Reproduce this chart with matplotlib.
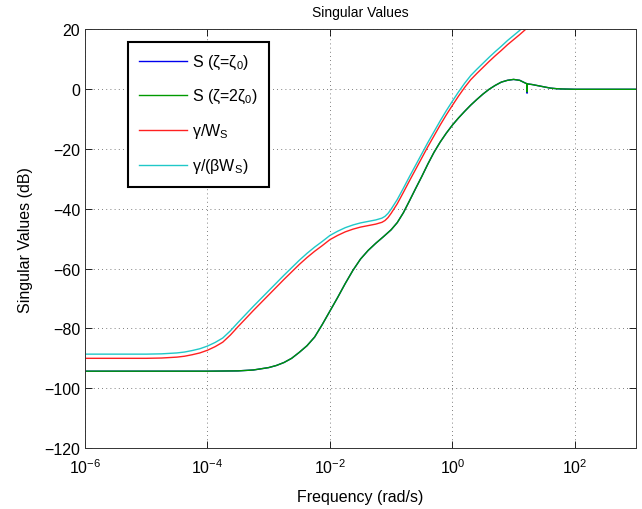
import numpy as np
import matplotlib.pyplot as plt

plt.rcParams['font.family'] = ['Liberation Sans', 'DejaVu Sans']
plt.rcParams['mathtext.fontset'] = 'custom'
plt.rcParams['mathtext.rm'] = 'Liberation Sans'
plt.rcParams['mathtext.it'] = 'Liberation Sans:italic'

# S curves: log10 of frequency (rad/s) and gain (dB)
s_logw = [-6.0, -5.0, -4.0, -3.5, -3.25, -3.0, -2.875, -2.75, -2.625, -2.5,
          -2.375, -2.25, -2.125, -2.0, -1.875, -1.75, -1.625, -1.5, -1.375,
          -1.25, -1.125, -1.0, -0.9, -0.8, -0.7, -0.6, -0.5, -0.4, -0.3, -0.2,
          -0.1, 0.0, 0.1, 0.2, 0.3, 0.4, 0.5, 0.6, 0.7, 0.8, 0.9, 1.0, 1.1,
          1.2, 1.215, 1.22, 1.225, 1.3, 1.4, 1.5, 1.6, 1.7, 1.8, 2.0, 3.0]
s1_db = [-94.3, -94.3, -94.3, -94.2, -93.9, -93.1, -92.4, -91.4, -90.0, -88.0,
         -85.8, -82.9, -78.7, -74.2, -69.7, -65.0, -60.6, -56.8, -53.9,
         -51.5, -49.3, -47.0, -44.6, -41.3, -37.3, -33.2, -29.2, -25.0, -21.1, -17.7,
         -14.7, -12.0, -9.6, -7.4, -5.3, -3.4, -1.6, 0.0, 1.3, 2.4, 3.0, 3.3, 3.0,
         2.0, 1.9, -1.3, 1.8, 1.6, 1.2, 0.8, 0.4, 0.2, 0.1, 0.0, 0.0]
s2_db = [-94.3, -94.3, -94.3, -94.2, -93.9, -93.1, -92.4, -91.4, -90.0, -88.0,
         -85.8, -82.9, -78.7, -74.2, -69.7, -65.0, -60.6, -56.8, -53.9,
         -51.5, -49.3, -47.0, -44.6, -41.3, -37.3, -33.2, -29.2, -25.0, -21.1, -17.7,
         -14.7, -12.0, -9.6, -7.4, -5.3, -3.4, -1.6, 0.0, 1.3, 2.4, 3.0, 3.3, 3.0,
         2.0, 1.9, -0.9, 1.8, 1.6, 1.2, 0.8, 0.4, 0.2, 0.1, 0.0, 0.0]

# weighting curves
w_logw = [-6.0, -5.0, -4.75, -4.5, -4.375, -4.25, -4.125, -4.0, -3.875, -3.75,
          -3.625, -3.5, -3.375, -3.25, -3.0, -2.75, -2.5, -2.375, -2.25, -2.125,
          -2.0, -1.875, -1.75, -1.625, -1.5, -1.375, -1.25, -1.15, -1.1, -1.05,
          -1.0, -0.9, -0.8, -0.7, -0.6, -0.5, -0.4, -0.3, -0.2, -0.1, 0.0, 0.1,
          0.2, 0.3, 0.4, 0.5, 0.6, 0.7, 0.8, 0.9, 1.0, 1.1, 1.2, 1.4]
gw_db = [-90.0, -90.0, -89.9, -89.6, -89.3, -88.8, -88.2, -87.3, -86.1, -84.6,
         -82.2, -79.4, -76.7, -74.0, -68.8, -63.6, -58.6, -56.3, -54.2, -52.3,
         -50.3, -48.9, -47.7, -46.8, -46.1, -45.6, -45.1, -44.5, -43.9, -42.9,
         -41.5, -38.3, -34.5, -30.6, -26.8, -23.0, -19.2, -15.6, -12.0, -8.6, -5.4, -2.3,
         0.6, 3.2, 5.3, 7.3, 9.3, 11.2, 13.0, 14.9, 16.6, 18.3, 20.1, 23.5]
gbw_db = [-88.6, -88.6, -88.5, -88.2, -87.9, -87.4, -86.8, -85.9, -84.7, -83.2,
          -80.8, -78.0, -75.3, -72.6, -67.4, -62.2, -57.2, -54.9, -52.8, -50.9,
          -48.9, -47.5, -46.3, -45.4, -44.7, -44.2, -43.7, -43.1, -42.5, -41.5,
          -40.1, -36.9, -33.1, -29.2, -25.4, -21.6, -17.8, -14.2, -10.6, -7.2, -4.0, -0.9,
          2.0, 4.6, 6.7, 8.7, 10.7, 12.6, 14.4, 16.3, 18.0, 19.7, 21.5, 24.9]

s_freq = 10.0 ** np.array(s_logw)
w_freq = 10.0 ** np.array(w_logw)

fig = plt.figure(figsize=(6.42, 5.10), dpi=100)
ax = fig.add_axes([0.1324, 0.1196, 0.8583, 0.8206])

ax.semilogx(s_freq, s1_db, color='#0000ee', lw=1.0, label=r'S (ζ=ζ$_0$)')
ax.semilogx(s_freq, s2_db, color='#009a00', lw=1.0, label=r'S (ζ=2ζ$_0$)')
ax.semilogx(w_freq, gw_db, color='#ff2020', lw=1.0, label=r'γ/W$_\mathrm{S}$')
ax.semilogx(w_freq, gbw_db, color='#20c8c8', lw=1.0, label=r'γ/(βW$_\mathrm{S}$)')

ax.set_xlim(1e-6, 1e3)
ax.set_ylim(-120, 20)
ax.set_xticks([1e-6, 1e-4, 1e-2, 1e0, 1e2])
ax.xaxis.set_minor_locator(plt.NullLocator())
ax.set_yticks(np.arange(-120, 21, 20))
ax.tick_params(direction='in', top=True, right=True, labelsize=11.5, length=5, width=0.6)
ax.tick_params(axis='x', pad=7)
ax.grid(True, linestyle=(0, (1, 4)), color='#555555', linewidth=0.6)
for sp in ax.spines.values():
    sp.set_linewidth(0.7)
    sp.set_color('#333333')

ax.set_title('Singular Values', fontsize=10, pad=10)
ax.set_xlabel('Frequency (rad/s)', fontsize=11.5, labelpad=9)
ax.set_ylabel('Singular Values (dB)', fontsize=11.5, labelpad=8)

leg = ax.legend(loc='upper left', bbox_to_anchor=(0.078, 0.97), fontsize=11.5,
                labelspacing=1.0, handlelength=3.0, handletextpad=0.3,
                borderpad=0.7, borderaxespad=0, fancybox=False, framealpha=1,
                edgecolor='black')
leg.get_frame().set_linewidth(1.5)

fig.savefig('out.png', dpi=100)
